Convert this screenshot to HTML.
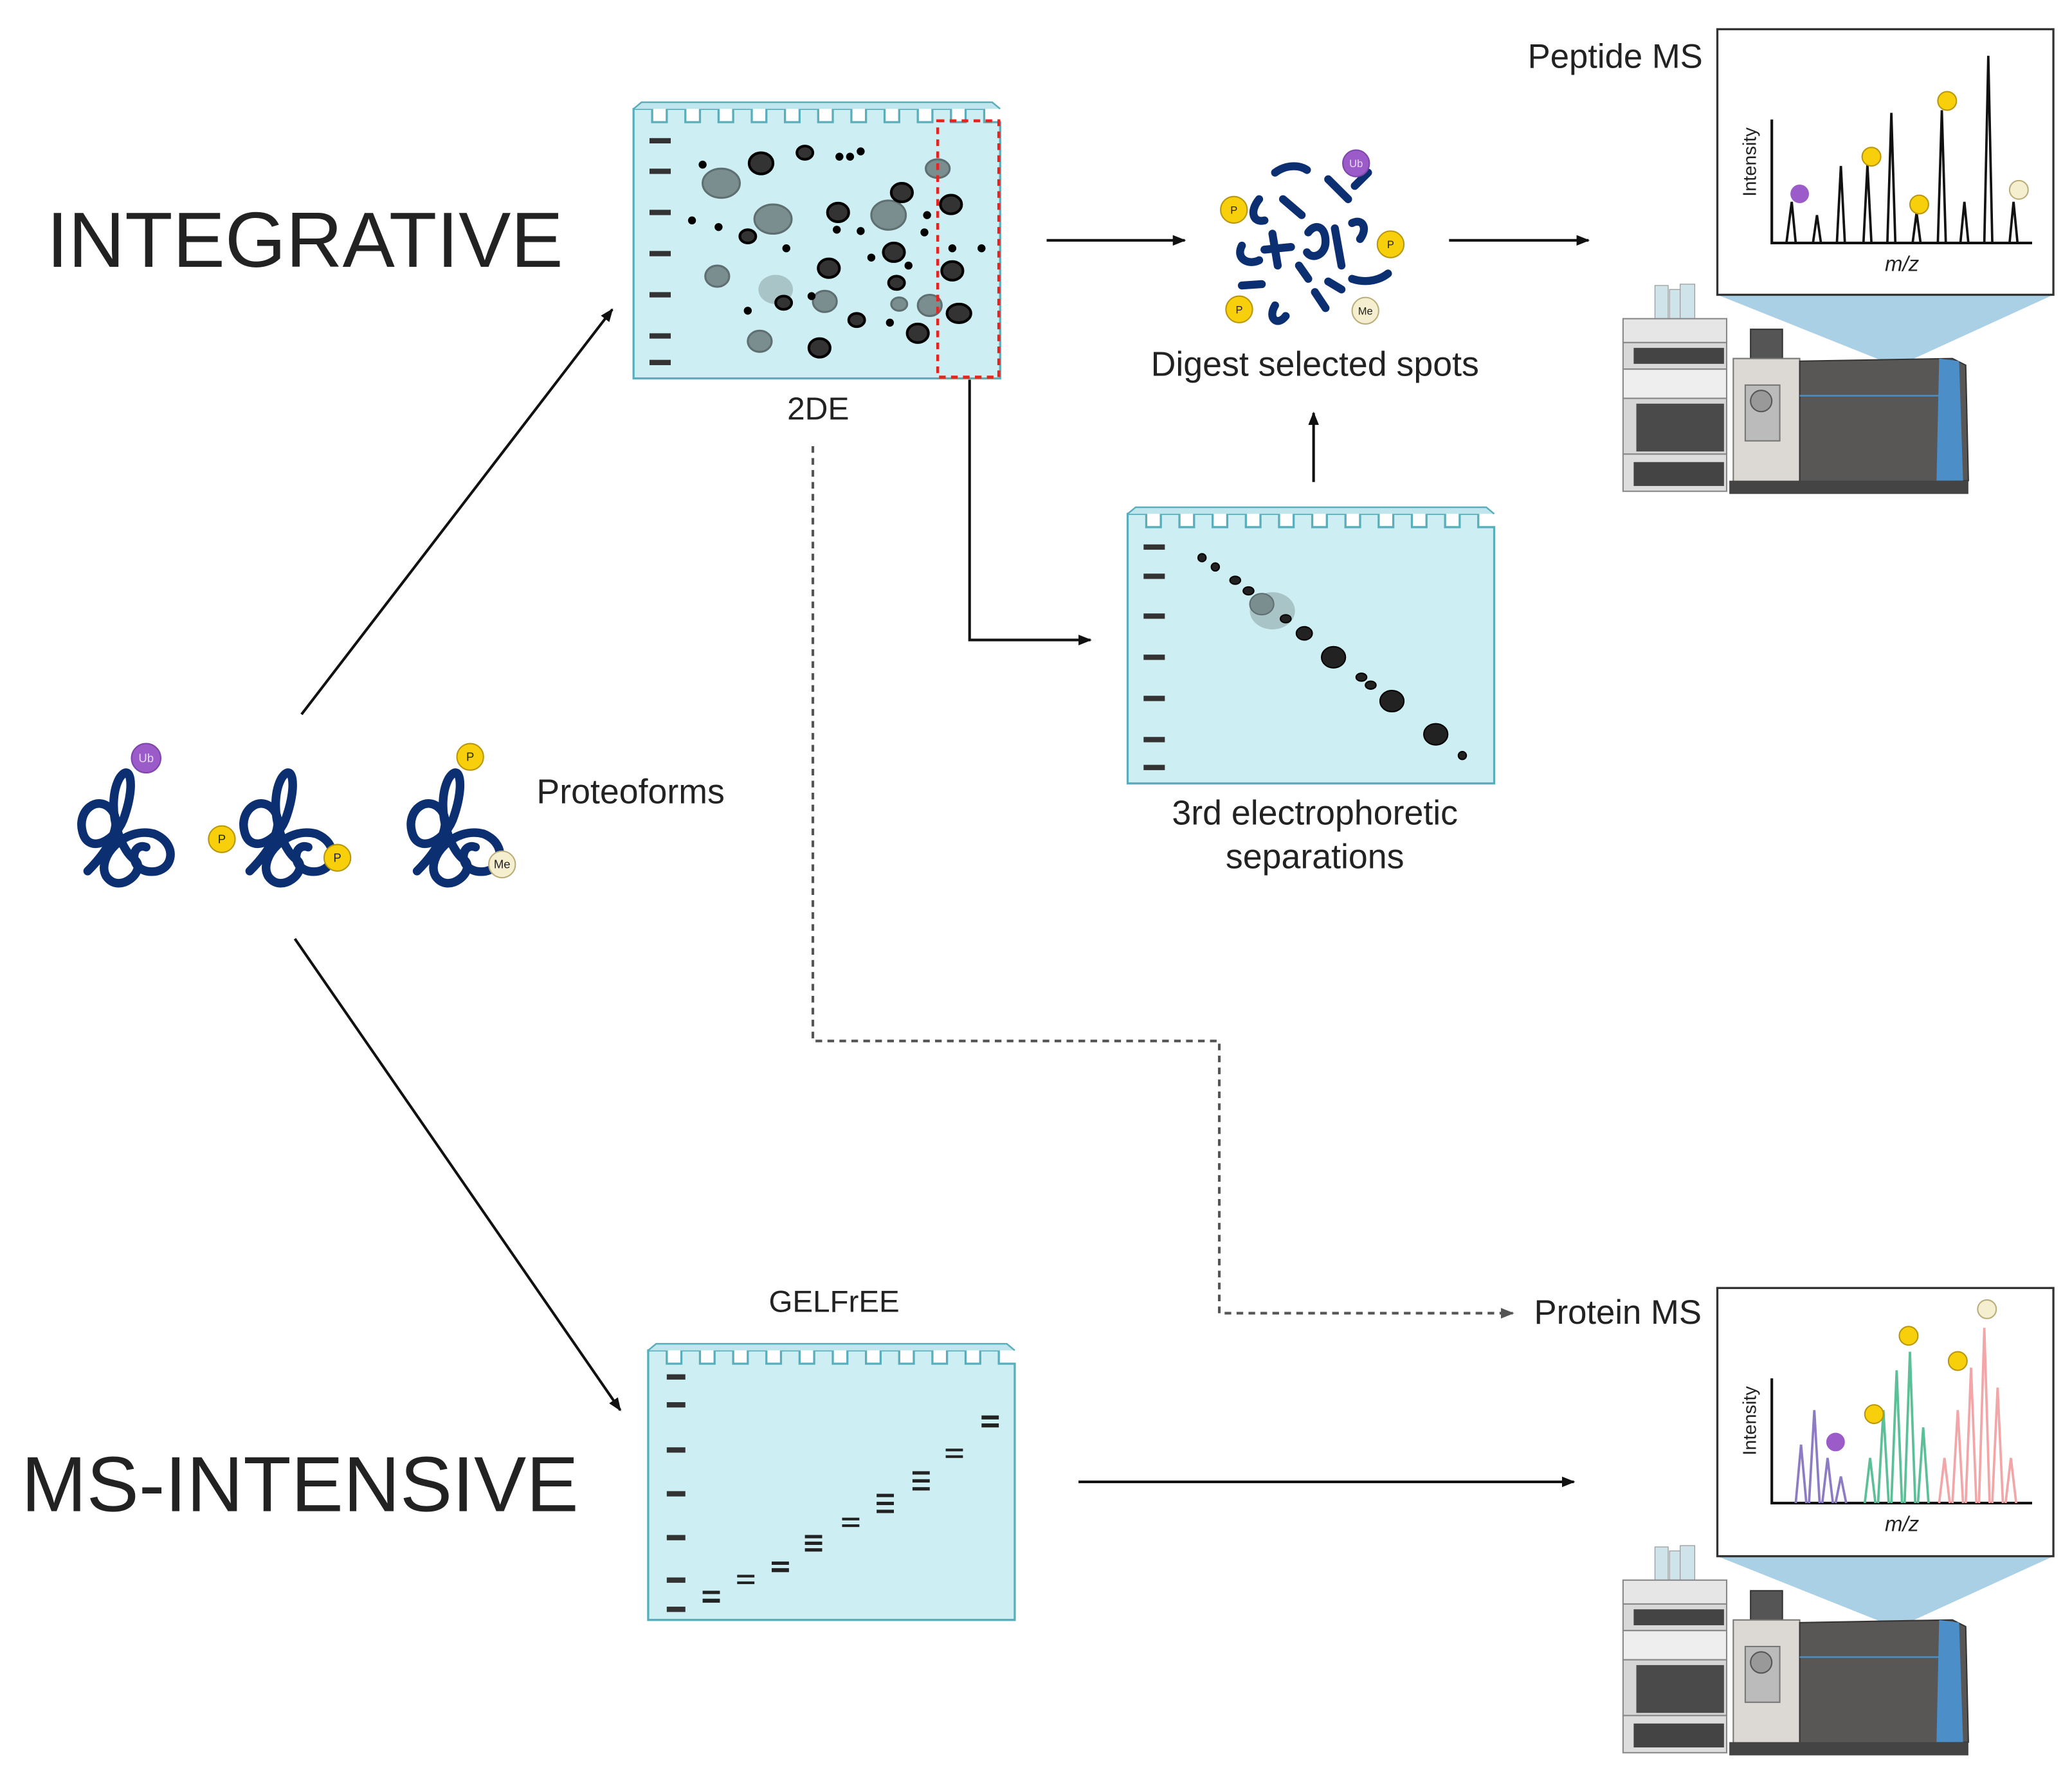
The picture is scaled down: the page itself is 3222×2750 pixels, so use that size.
<!DOCTYPE html>
<html><head><meta charset="utf-8"><style>html,body{margin:0;padding:0;background:#fff}svg{display:block}</style></head>
<body>
<svg xmlns="http://www.w3.org/2000/svg" width="3222" height="2750" viewBox="0 0 1560 1331.5" font-family="Liberation Sans, sans-serif">
<defs>
<marker id="ah" markerWidth="10" markerHeight="8" refX="9" refY="4" orient="auto" markerUnits="userSpaceOnUse"><path d="M0,0 L10,4 L0,8 Z" fill="#111"/></marker>
<marker id="ahg" markerWidth="10" markerHeight="8" refX="9" refY="4" orient="auto" markerUnits="userSpaceOnUse"><path d="M0,0 L10,4 L0,8 Z" fill="#555"/></marker>
<g id="gel">
<path d="M0,205 V2 H14 V12 H25 V2 H39 V12 H50 V2 H64 V12 H75 V2 H89 V12 H100 V2 H114 V12 H125 V2 H139 V12 H150 V2 H164 V12 H175 V2 H189 V12 H200 V2 H214 V12 H225 V2 H239 V12 H250 V2 H264 V12 H276 V205 Z" fill="#cdeff3" stroke="#5aaebb" stroke-width="1.6"/>
<path d="M0,2 l6,-5 H270 l6,5" fill="#bfe6ec" stroke="#5aaebb" stroke-width="1.2"/>
</g>
<g id="prot" fill="none" stroke="#0c2f72" stroke-width="6.5" stroke-linecap="round">
<path d="M12,78 C30,60 38,42 30,32 C20,20 4,32 8,48 C12,66 34,56 40,36 C48,12 44,-4 36,8 C26,26 34,60 48,70 C56,78 36,96 26,82 C18,68 40,44 62,50 C82,58 76,82 56,78 C42,74 46,56 56,60"/>
</g>
<g id="inst">
<rect x="1246" y="215" width="10" height="25" fill="#cfe4ea" stroke="#999" stroke-width="0.6"/>
<rect x="1257" y="218" width="10" height="22" fill="#cfe4ea" stroke="#999" stroke-width="0.6"/>
<rect x="1265" y="214" width="11" height="26" fill="#cfe4ea" stroke="#999" stroke-width="0.6"/>
<rect x="1222" y="240" width="78" height="18" fill="#e6e6e6" stroke="#888"/>
<rect x="1222" y="258" width="78" height="20" fill="#d8d8d8" stroke="#888"/>
<rect x="1230" y="262" width="68" height="12" fill="#444"/>
<rect x="1222" y="278" width="78" height="22" fill="#eee" stroke="#888"/>
<rect x="1222" y="300" width="78" height="42" fill="#d6d6d6" stroke="#888"/>
<rect x="1232" y="304" width="66" height="36" fill="#4a4a4a"/>
<rect x="1222" y="342" width="78" height="28" fill="#ddd" stroke="#888"/>
<rect x="1230" y="348" width="68" height="18" fill="#444"/>
<rect x="1318" y="248" width="24" height="22" fill="#555" stroke="#333"/>
<rect x="1305" y="270" width="50" height="100" fill="#dcd8d4" stroke="#777"/>
<rect x="1314" y="290" width="26" height="42" fill="#bbb" stroke="#777"/>
<circle cx="1326" cy="302" r="8" fill="#999" stroke="#555"/>
<path d="M1355,272 L1470,270 L1480,275 L1482,362 L1355,368 Z" fill="#585756" stroke="#333"/>
<path d="M1355,298 H1470" stroke="#4b8fc4" stroke-width="1.2"/>
<path d="M1460,270 L1475,272 L1478,362 L1458,362 Z" fill="#4b8ec8"/>
<rect x="1302" y="362" width="180" height="10" fill="#444"/>
</g>
</defs>

<text x="35" y="201" font-size="59" fill="#222">INTEGRATIVE</text>
<text x="16" y="1138" font-size="59" fill="#222">MS-INTENSIVE</text>

<use href="#gel" x="477" y="80"/>
<g fill="#333">
<rect x="489" y="104" width="16" height="4"/><rect x="489" y="127" width="16" height="4"/><rect x="489" y="158" width="16" height="4"/><rect x="489" y="189" width="16" height="4"/><rect x="489" y="220" width="16" height="4"/><rect x="489" y="251" width="16" height="4"/><rect x="489" y="271" width="16" height="4"/>
</g>
<g fill="#7a8d8f" stroke="#5f6e70" stroke-width="1.5">
<ellipse cx="543" cy="138" rx="14" ry="11"/><ellipse cx="582" cy="165" rx="14" ry="11"/><ellipse cx="669" cy="162" rx="13" ry="11"/><ellipse cx="540" cy="208" rx="9" ry="8"/><ellipse cx="621" cy="227" rx="9" ry="8"/><ellipse cx="572" cy="257" rx="9" ry="8"/><ellipse cx="706" cy="127" rx="9" ry="7"/><ellipse cx="700" cy="230" rx="9" ry="8"/><ellipse cx="677" cy="229" rx="6" ry="5"/>
</g>
<ellipse cx="584" cy="218" rx="13" ry="11" fill="#a9c4c7"/>
<g fill="#333" stroke="#000" stroke-width="2">
<ellipse cx="573" cy="123" rx="9" ry="8"/><ellipse cx="606" cy="115" rx="6" ry="5"/><ellipse cx="631" cy="160" rx="8" ry="7"/><ellipse cx="624" cy="202" rx="8" ry="7"/><ellipse cx="673" cy="190" rx="8" ry="7"/><ellipse cx="679" cy="145" rx="8" ry="7"/><ellipse cx="716" cy="154" rx="8" ry="7"/><ellipse cx="717" cy="204" rx="8" ry="7"/><ellipse cx="722" cy="236" rx="9" ry="7"/><ellipse cx="617" cy="262" rx="8" ry="7"/><ellipse cx="691" cy="251" rx="8" ry="7"/><ellipse cx="590" cy="228" rx="6" ry="5"/><ellipse cx="675" cy="213" rx="6" ry="5"/><ellipse cx="645" cy="241" rx="6" ry="5"/><ellipse cx="563" cy="178" rx="6" ry="5"/>
</g>
<g fill="#000">
<circle cx="529" cy="124" r="3"/><circle cx="521" cy="166" r="3"/><circle cx="541" cy="171" r="3"/><circle cx="632" cy="118" r="3"/><circle cx="640" cy="118" r="3"/><circle cx="648" cy="114" r="3"/><circle cx="592" cy="187" r="3"/><circle cx="611" cy="223" r="3"/><circle cx="630" cy="173" r="3"/><circle cx="648" cy="174" r="3"/><circle cx="656" cy="194" r="3"/><circle cx="698" cy="162" r="3"/><circle cx="684" cy="200" r="3"/><circle cx="717" cy="187" r="3"/><circle cx="739" cy="187" r="3"/><circle cx="563" cy="234" r="3"/><circle cx="696" cy="175" r="3"/><circle cx="670" cy="243" r="3"/>
</g>
<rect x="706" y="91" width="46" height="193" fill="none" stroke="#e8231f" stroke-width="2.2" stroke-dasharray="5,4"/>
<text x="616" y="316" font-size="24" fill="#222" text-anchor="middle">2DE</text>

<use href="#gel" x="849" y="385"/>
<g fill="#333">
<rect x="861" y="410" width="16" height="4"/><rect x="861" y="432" width="16" height="4"/><rect x="861" y="462" width="16" height="4"/><rect x="861" y="493" width="16" height="4"/><rect x="861" y="524" width="16" height="4"/><rect x="861" y="555" width="16" height="4"/><rect x="861" y="576" width="16" height="4"/>
</g>
<ellipse cx="958" cy="460" rx="17" ry="14" fill="#a9c4c7"/>
<ellipse cx="950" cy="455" rx="9" ry="8" fill="#7a8d8f" stroke="#5f6e70"/>
<g fill="#222" stroke="#000">
<circle cx="905" cy="420" r="3"/><circle cx="915" cy="427" r="3"/><ellipse cx="930" cy="437" rx="4" ry="3"/><ellipse cx="940" cy="445" rx="4" ry="3"/><ellipse cx="968" cy="466" rx="4" ry="3"/><ellipse cx="982" cy="477" rx="6" ry="5"/><ellipse cx="1004" cy="495" rx="9" ry="8"/><ellipse cx="1025" cy="510" rx="4" ry="3"/><ellipse cx="1032" cy="516" rx="4" ry="3"/><ellipse cx="1048" cy="528" rx="9" ry="8"/><ellipse cx="1081" cy="553" rx="9" ry="8"/><circle cx="1101" cy="569" r="3"/>
</g>
<text x="990" y="621" font-size="26" fill="#222" text-anchor="middle">3rd electrophoretic</text>
<text x="990" y="654" font-size="26" fill="#222" text-anchor="middle">separations</text>

<text x="628" y="988" font-size="23" fill="#222" text-anchor="middle">GELFrEE</text>
<use href="#gel" x="488" y="1015"/>
<g fill="#333">
<rect x="502" y="1035" width="14" height="4"/><rect x="502" y="1056" width="14" height="4"/><rect x="502" y="1090" width="14" height="4"/><rect x="502" y="1123" width="14" height="4"/><rect x="502" y="1156" width="14" height="4"/><rect x="502" y="1188" width="14" height="4"/><rect x="502" y="1210" width="14" height="4"/>
</g>
<g fill="#222">
<rect x="529" y="1198" width="13" height="2.5"/><rect x="529" y="1204" width="13" height="3"/>
<rect x="555" y="1186" width="13" height="2"/><rect x="555" y="1191" width="13" height="2"/>
<rect x="581" y="1176" width="13" height="2.5"/><rect x="581" y="1181" width="13" height="3"/>
<rect x="606" y="1156" width="13" height="2.5"/><rect x="606" y="1161" width="13" height="2.5"/><rect x="606" y="1166" width="13" height="2.5"/>
<rect x="634" y="1143" width="13" height="2"/><rect x="634" y="1148" width="13" height="2"/>
<rect x="660" y="1125" width="13" height="2.5"/><rect x="660" y="1131" width="13" height="2.5"/><rect x="660" y="1137" width="13" height="2.5"/>
<rect x="687" y="1108" width="13" height="2.5"/><rect x="687" y="1114" width="13" height="2.5"/><rect x="687" y="1120" width="13" height="2.5"/>
<rect x="712" y="1091" width="13" height="2"/><rect x="712" y="1096" width="13" height="2"/>
<rect x="739" y="1066" width="13" height="3"/><rect x="739" y="1072" width="13" height="3"/>
</g>

<use href="#prot" x="54" y="578"/>
<use href="#prot" x="176" y="578"/>
<use href="#prot" x="302" y="578"/>
<g font-size="9" text-anchor="middle" fill="#222">
<circle cx="110" cy="571" r="11" fill="#9b5bc9" stroke="#7e45ab"/><text x="110" y="574" fill="#e8d8f5">Ub</text>
<circle cx="167" cy="632" r="10" fill="#f7cf0a" stroke="#b8960a"/><text x="167" y="635">P</text>
<circle cx="254" cy="646" r="10" fill="#f7cf0a" stroke="#b8960a"/><text x="254" y="649">P</text>
<circle cx="354" cy="570" r="10" fill="#f7cf0a" stroke="#b8960a"/><text x="354" y="573">P</text>
<circle cx="378" cy="651" r="10" fill="#f6efcf" stroke="#b9ad7a"/><text x="378" y="654">Me</text>
</g>
<text x="404" y="605" font-size="26" fill="#222">Proteoforms</text>

<g fill="none" stroke="#0c2f72" stroke-width="6" stroke-linecap="round">
<path d="M960,130 C968,124 978,124 984,128"/>
<path d="M1000,135 L1015,150"/>
<path d="M948,150 C940,160 944,168 952,166"/>
<path d="M966,150 L980,162"/>
<path d="M1020,140 L1030,130"/>
<path d="M935,185 C930,195 940,200 948,196"/>
<path d="M958,176 L962,200"/>
<path d="M952,188 L972,186"/>
<path d="M985,175 C990,168 998,170 998,182 C998,192 988,196 984,190"/>
<path d="M1005,172 L1010,200"/>
<path d="M1018,168 C1026,164 1030,172 1024,180"/>
<path d="M978,200 L985,210"/>
<path d="M1000,212 L1010,218"/>
<path d="M1018,210 C1030,214 1040,210 1045,206"/>
<path d="M935,215 L950,214"/>
<path d="M960,230 C954,240 962,246 968,238"/>
<path d="M990,220 L998,232"/>
</g>
<g font-size="8" text-anchor="middle" fill="#222">
<circle cx="1021" cy="123" r="10" fill="#9b5bc9" stroke="#7e45ab"/><text x="1021" y="126" fill="#e8d8f5">Ub</text>
<circle cx="929" cy="158" r="10" fill="#f7cf0a" stroke="#b8960a"/><text x="929" y="161">P</text>
<circle cx="1047" cy="184" r="10" fill="#f7cf0a" stroke="#b8960a"/><text x="1047" y="187">P</text>
<circle cx="933" cy="233" r="10" fill="#f7cf0a" stroke="#b8960a"/><text x="933" y="236">P</text>
<circle cx="1028" cy="234" r="10" fill="#f6efcf" stroke="#b9ad7a"/><text x="1028" y="237">Me</text>
</g>
<text x="990" y="283" font-size="26" fill="#222" text-anchor="middle">Digest selected spots</text>

<text x="1282" y="51" font-size="25.5" fill="#222" text-anchor="end">Peptide MS</text>
<path d="M1293,222 L1546,222 L1428,276 Z" fill="#a9d0e4"/>
<use href="#inst"/>
<rect x="1293" y="22" width="253" height="200" fill="#fff" stroke="#333" stroke-width="1.6"/>
<path d="M1334,90 V183 H1530" fill="none" stroke="#111" stroke-width="2"/>
<text transform="translate(1322,122) rotate(-90)" font-size="14" fill="#222" text-anchor="middle">Intensity</text>
<text x="1432" y="204" font-size="16" font-style="italic" fill="#222" text-anchor="middle">m/z</text>
<g fill="none" stroke="#111" stroke-width="1.8">
<path d="M1345,183 L1349,152 L1352,183"/><path d="M1365,183 L1368,162 L1371,183"/><path d="M1383,183 L1386,125 L1389,183"/><path d="M1403,183 L1406,124 L1409,183"/><path d="M1421,183 L1424,85 L1427,183"/><path d="M1440,183 L1443,160 L1446,183"/><path d="M1459,183 L1462,83 L1465,183"/><path d="M1476,183 L1479,152 L1482,183"/><path d="M1494,183 L1497,42 L1500,183"/><path d="M1513,183 L1516,152 L1519,183"/>
</g>
<g>
<circle cx="1355" cy="146" r="7" fill="#9b5bc9"/><circle cx="1409" cy="118" r="7" fill="#f7cf0a" stroke="#b8960a"/><circle cx="1445" cy="154" r="7" fill="#f7cf0a" stroke="#b8960a"/><circle cx="1466" cy="76" r="7" fill="#f7cf0a" stroke="#b8960a"/><circle cx="1520" cy="143" r="7" fill="#f6efcf" stroke="#b9ad7a"/>
</g>

<text x="1155" y="997" font-size="25.5" fill="#222">Protein MS</text>
<path d="M1293,1172 L1546,1172 L1428,1226 Z" fill="#a9d0e4"/>
<use href="#inst" y="950"/>
<rect x="1293" y="970" width="253" height="202" fill="#fff" stroke="#333" stroke-width="1.6"/>
<path d="M1334,1038 V1132 H1530" fill="none" stroke="#111" stroke-width="2"/>
<text transform="translate(1322,1070) rotate(-90)" font-size="14" fill="#222" text-anchor="middle">Intensity</text>
<text x="1432" y="1153" font-size="16" font-style="italic" fill="#222" text-anchor="middle">m/z</text>
<g fill="none" stroke-width="1.8">
<path stroke="#8d7bc4" d="M1352,1132 L1356,1088 L1360,1132 M1362,1132 L1366,1062 L1370,1132 M1372,1132 L1376,1098 L1380,1132 M1382,1132 L1386,1112 L1390,1132"/>
<path stroke="#5bbf97" d="M1404,1132 L1408,1098 L1412,1132 M1414,1132 L1418,1062 L1422,1132 M1424,1132 L1428,1032 L1432,1132 M1434,1132 L1438,1018 L1442,1132 M1444,1132 L1448,1075 L1452,1132"/>
<path stroke="#f2a6a8" d="M1460,1132 L1464,1098 L1468,1132 M1470,1132 L1474,1062 L1478,1132 M1480,1132 L1484,1030 L1488,1132 M1490,1132 L1494,1000 L1498,1132 M1500,1132 L1504,1045 L1508,1132 M1510,1132 L1514,1098 L1518,1132"/>
</g>
<circle cx="1382" cy="1086" r="7" fill="#9b5bc9"/><circle cx="1411" cy="1065" r="7" fill="#f7cf0a" stroke="#b8960a"/><circle cx="1437" cy="1006" r="7" fill="#f7cf0a" stroke="#b8960a"/><circle cx="1474" cy="1025" r="7" fill="#f7cf0a" stroke="#b8960a"/><circle cx="1496" cy="986" r="7" fill="#f6efcf" stroke="#b9ad7a"/>

<g stroke="#111" stroke-width="2" fill="none">
<path d="M227,538 L461,233" marker-end="url(#ah)"/>
<path d="M788,181 L892,181" marker-end="url(#ah)"/>
<path d="M1091,181 L1196,181" marker-end="url(#ah)"/>
<path d="M730,286 V482 H821" marker-end="url(#ah)"/>
<path d="M989,363 V311" marker-end="url(#ah)"/>
<path d="M222,707 L467,1062" marker-end="url(#ah)"/>
<path d="M812,1116 L1185,1116" marker-end="url(#ah)"/>
</g>
<path d="M612,336 V784 H918 V989 H1139" stroke="#555" stroke-width="2" fill="none" stroke-dasharray="5,4" marker-end="url(#ahg)"/>
</svg>
</body></html>
